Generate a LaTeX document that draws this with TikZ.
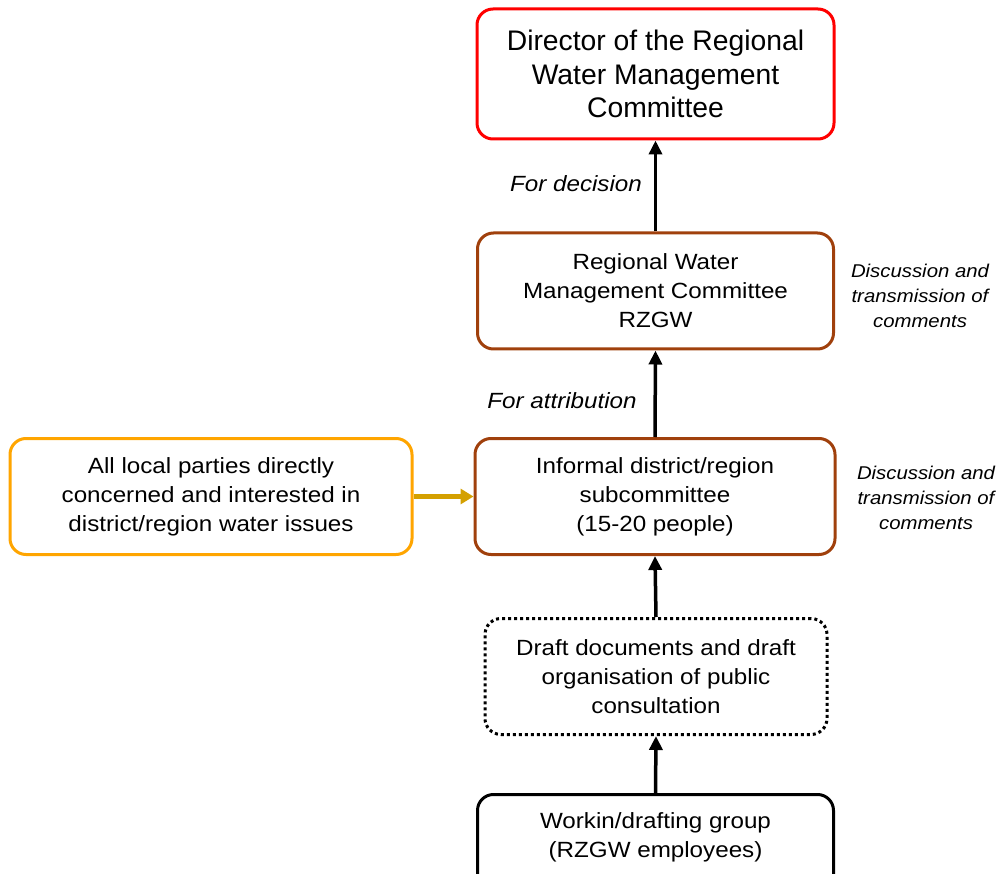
\documentclass[tikz,border=0pt]{standalone}
\usepackage{fontspec}
\setmainfont{Liberation Sans}
\newfontfamily\widefont[FakeStretch=1.1]{Liberation Sans}
\usetikzlibrary{arrows.meta}
\definecolor{redc}{HTML}{FF0000}
\definecolor{brownc}{HTML}{A0400C}
\definecolor{orangec}{HTML}{FFA500}
\definecolor{goldc}{HTML}{D4A000}
\begin{document}
\begin{tikzpicture}[x=1pt,y=-1pt,
  box/.style={draw, rounded corners=16pt, line width=3pt, minimum width=356pt, minimum height=116pt, align=center, inner sep=0pt, font=\widefont\fontsize{22}{29}\selectfont},
  arr/.style={line width=3.5pt, -{Triangle[length=14pt,width=13pt]}},
  goldarr/.style={draw=goldc, fill=goldc, line width=4.5pt, -{Triangle[length=13pt,width=15pt]}},
  lab/.style={font=\widefont\fontsize{22}{24}\selectfont\itshape},
  side/.style={font=\widefont\fontsize{18.5}{25}\selectfont\itshape, align=center}]
\useasboundingbox (0,0) rectangle (996,874);
\begin{scope}
\clip (0,0) rectangle (996,874);
\node[box, draw=redc, minimum width=357pt, minimum height=130pt, font=\fontsize{28.3}{33.5}\selectfont] (dir) at (655.5,74) {Director of the Regional\\Water Management\\Committee};
\node[box, draw=brownc] (rzgw) at (655.5,291) {Regional Water\\Management Committee\\RZGW};
\node[box, draw=brownc, minimum width=360pt] (inf) at (655,496.5) {Informal district/region\\subcommittee\\(15-20 people)};
\node[box, draw=orangec, minimum width=402pt] (loc) at (211,496.5) {All local parties directly\\concerned and interested in\\district/region water issues};
\node[box, draw=black, dash pattern=on 3pt off 3pt, minimum width=342pt] (drf) at (656,676.5) {Draft documents and draft\\organisation of public\\consultation};
\node[box, draw=black, minimum height=140pt, anchor=north] (wg) at (655.5,793) {};
\node[font=\widefont\fontsize{22}{29}\selectfont, align=center] (wgt) at (655.5,837.5) {Workin/drafting group\\(RZGW employees)};
\end{scope}
\draw[arr] (rzgw.north) -- (dir.south);
\draw[arr] (inf.north) -- (rzgw.south);
\draw[arr] (drf.north) -- (inf.south);
\draw[arr] (wg.north) -- (drf.south);
\draw[goldarr] (loc.east) -- (inf.west);
\node[lab] (ldec) at (576,184) {For decision};
\node[lab] (latt) at (562,401) {For attribution};
\node[side] (s1) at (920,296) {Discussion and\\transmission of\\comments};
\node[side] (s2) at (926,498) {Discussion and\\transmission of\\comments};
\end{tikzpicture}
\end{document}
